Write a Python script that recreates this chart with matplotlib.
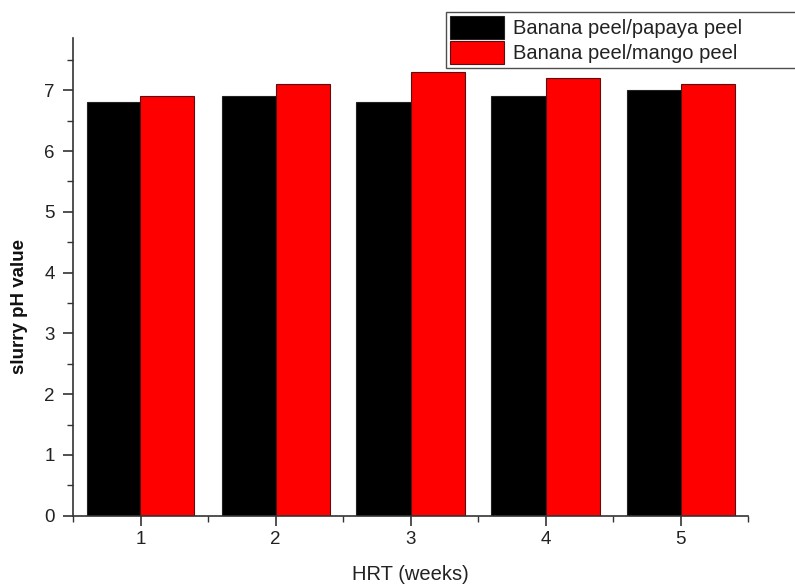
import matplotlib
matplotlib.use("Agg")
import matplotlib.pyplot as plt
import numpy as np
from matplotlib.ticker import MultipleLocator

plt.rcParams['font.family'] = ['Liberation Sans', 'DejaVu Sans']

weeks = [1, 2, 3, 4, 5]
papaya = [6.8, 6.9, 6.8, 6.9, 7.0]
mango = [6.9, 7.1, 7.3, 7.2, 7.1]
labels = ['Banana peel/papaya peel', 'Banana peel/mango peel']

fig = plt.figure(figsize=(7.95, 5.86), dpi=100)
ax = fig.add_axes([73/795, 1-515.7/586, (748-73)/795, (515.7-38)/586])

x = np.array(weeks, dtype=float)
w = 0.4
ax.bar(x - w/2, papaya, width=w, color='black', edgecolor='#222222', linewidth=0.8, label=labels[0])
ax.bar(x + w/2, mango, width=w, color='#ff0000', edgecolor='#5a1010', linewidth=0.8, label=labels[1])

ax.set_xlim(0.5, 5.5)
ax.set_ylim(0, 7.86)
ax.set_xticks(weeks)
ax.xaxis.set_minor_locator(MultipleLocator(0.5))
ax.yaxis.set_major_locator(MultipleLocator(1))
ax.yaxis.set_minor_locator(MultipleLocator(0.5))
for s in ['top', 'right']:
    ax.spines[s].set_visible(False)
for s in ['left', 'bottom']:
    ax.spines[s].set_color('#333333')
    ax.spines[s].set_linewidth(1.2)
ax.tick_params(which='major', direction='out', length=7, width=1.2, color='#333333', labelsize=13.5, labelcolor='#222222')
ax.tick_params(which='minor', direction='out', length=4, width=1.0, color='#333333')
ax.tick_params(axis='y', pad=6)
ax.tick_params(axis='x', pad=4)

ax.set_xlabel('HRT (weeks)', fontsize=14.5, color='#222222')
ax.set_ylabel('slurry pH value', fontsize=13.5, color='#111111', fontweight='bold')
ax.xaxis.set_label_coords(0.5, -(575-515.7)/477.7, transform=ax.transAxes)
ax.xaxis.label.set_va('center')
ax.yaxis.set_label_coords(-(73-20)/675, 0.437, transform=ax.transAxes)
ax.yaxis.label.set_va('center')

leg = fig.legend(loc='upper left', bbox_to_anchor=(445.7/795, 1-12/586, 380/795, 0.0),
                 mode='expand', fontsize=14.5, frameon=True, fancybox=False,
                 handlelength=2.7, handleheight=1.35, labelspacing=0.12,
                 handletextpad=0.45, borderpad=0.2, borderaxespad=0.0)
leg.get_frame().set_edgecolor('#222222')
leg.get_frame().set_linewidth(1.0)
for t in leg.get_texts():
    t.set_color('#222222')

fig.savefig('out.png', dpi=100)
